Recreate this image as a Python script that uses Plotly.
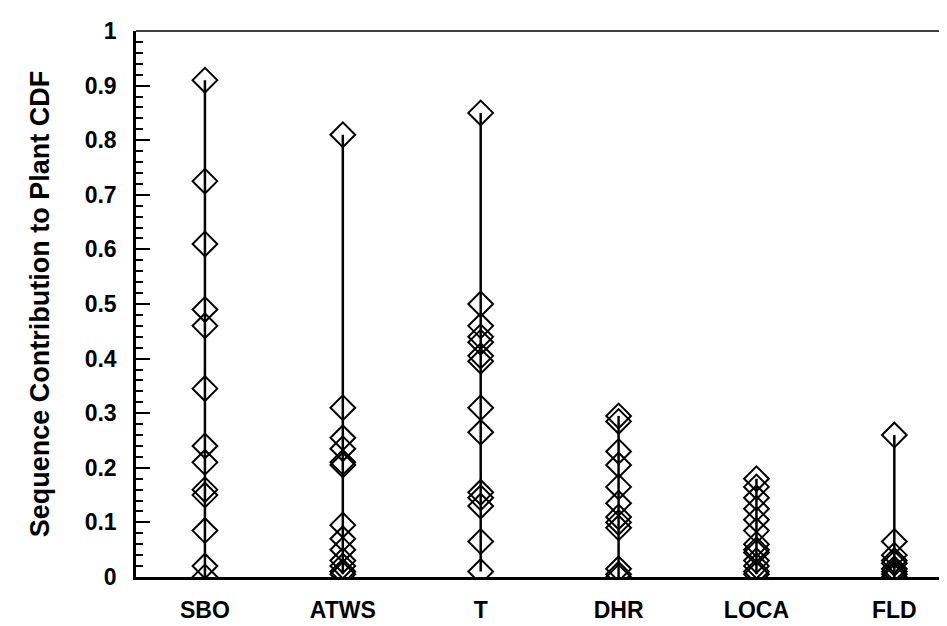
import plotly.graph_objects as go

categories = ["SBO", "ATWS", "T", "DHR", "LOCA", "FLD"]

sbo = [0.91, 0.725, 0.61, 0.49, 0.46, 0.345, 0.24, 0.21, 0.16, 0.15, 0.085, 0.02, 0.0]
atws = [0.81, 0.31, 0.255, 0.235, 0.21, 0.205, 0.095, 0.07, 0.05, 0.03, 0.02, 0.01, 0.005]
t_seq = [0.85, 0.50, 0.46, 0.44, 0.43, 0.405, 0.395, 0.31, 0.265, 0.155, 0.145, 0.13, 0.065, 0.01]
dhr = [0.295, 0.285, 0.23, 0.205, 0.165, 0.135, 0.11, 0.10, 0.09, 0.015, 0.005, 0.0]
loca = [0.18, 0.165, 0.145, 0.125, 0.105, 0.085, 0.06, 0.05, 0.045, 0.03, 0.02, 0.01, 0.005]
fld = [0.26, 0.065, 0.04, 0.03, 0.025, 0.015, 0.01, 0.005, 0.0]

series = [sbo, atws, t_seq, dhr, loca, fld]

y_ticks = [0, 0.1, 0.2, 0.3, 0.4, 0.5, 0.6, 0.7, 0.8, 0.9, 1]
y_ticklabels = ["0", "0.1", "0.2", "0.3", "0.4", "0.5", "0.6", "0.7", "0.8", "0.9", "1"]

fig = go.Figure()

for cat, vals in zip(categories, series):
    fig.add_trace(go.Scatter(
        x=[cat, cat], y=[min(vals), max(vals)], mode="lines",
        line=dict(color="black", width=2.5), showlegend=False, hoverinfo="skip"))
    fig.add_trace(go.Scatter(
        x=[cat] * len(vals), y=vals, mode="markers",
        marker=dict(symbol="diamond-open", size=19, color="black",
                    line=dict(width=2, color="black")),
        showlegend=False))

font_family = "Liberation Sans, Arial, sans-serif"

fig.update_layout(
    width=947, height=626,
    margin=dict(l=128, r=0, t=23, b=57),
    plot_bgcolor="white", paper_bgcolor="white",
    font=dict(family=font_family, color="black"),
    xaxis=dict(
        type="category", categoryorder="array", categoryarray=categories,
        range=[-0.5, 5.44],
        showgrid=False, zeroline=False,
        showline=True, linecolor="black", linewidth=3,
        ticks="", ticklabelstandoff=10,
        tickfont=dict(size=23, family=font_family, weight="bold"),
    ),
    yaxis=dict(
        range=[0, 1],
        tickvals=y_ticks, ticktext=y_ticklabels,
        showgrid=False, zeroline=False,
        showline=True, linecolor="black", linewidth=2.5,
        ticks="inside", ticklen=14, tickwidth=2, tickcolor="black",
        ticklabelstandoff=12,
        minor=dict(dtick=0.02, ticks="inside", ticklen=7, tickwidth=1.5, tickcolor="black"),
        tickfont=dict(size=23, family=font_family, weight="bold"),
        title=dict(text="Sequence Contribution to Plant CDF", standoff=28,
                   font=dict(size=27, family=font_family, weight="bold")),
    ),
    shapes=[dict(type="line", xref="paper", yref="paper", x0=0, x1=1, y0=1, y1=1,
                 line=dict(color="black", width=1.5))],
)

fig.write_html("out.html")
